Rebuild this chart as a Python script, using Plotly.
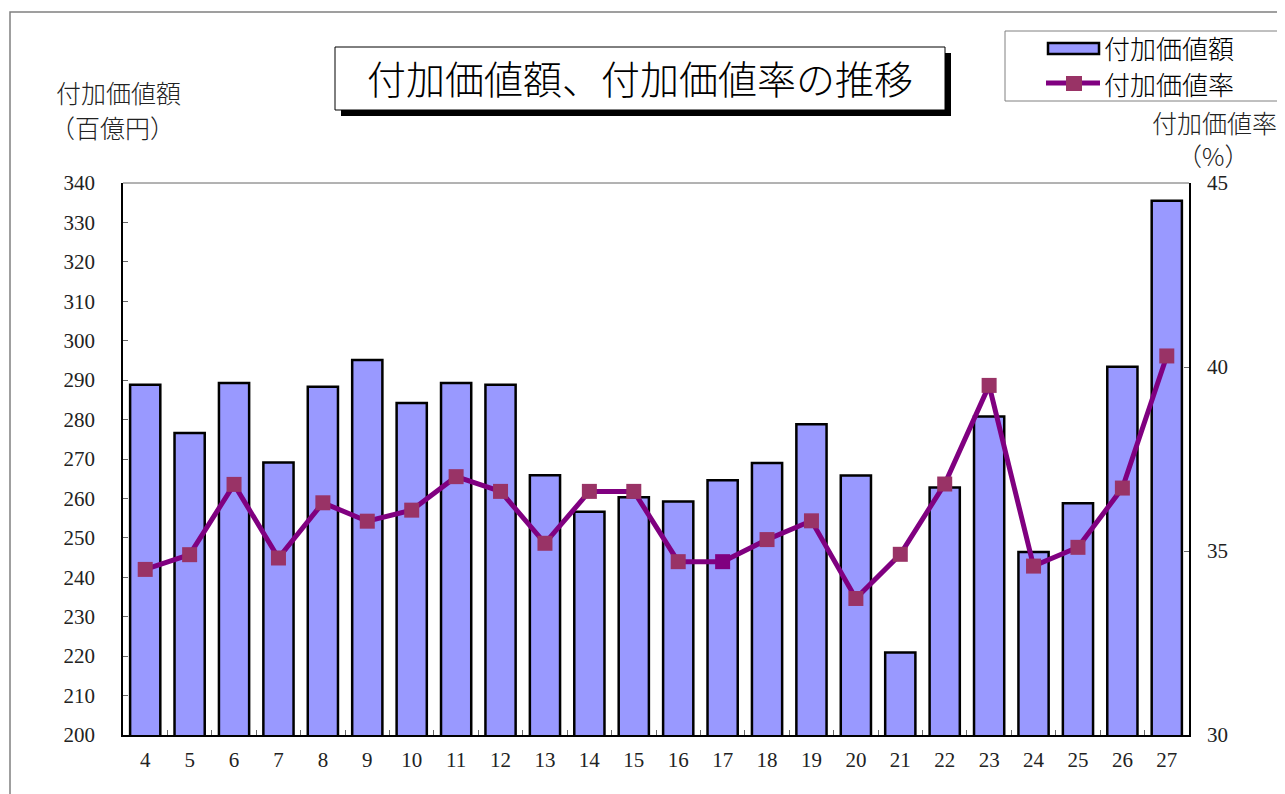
import plotly.graph_objects as go

# 年度（平成）
years = ["4", "5", "6", "7", "8", "9", "10", "11", "12", "13", "14", "15",
         "16", "17", "18", "19", "20", "21", "22", "23", "24", "25", "26", "27"]

# 付加価値額（百億円）
value_added = [288.8, 276.6, 289.3, 269.1, 288.3, 295.1, 284.2, 289.3, 288.8, 265.9,
               256.6, 260.3, 259.2, 264.6, 269.0, 278.8, 265.8, 220.9, 262.8, 280.8,
               246.4, 258.8, 293.4, 335.5]

# 付加価値率（%）
value_added_rate = [34.50, 34.90, 36.81, 34.81, 36.31, 35.81, 36.11, 37.02, 36.62, 35.21,
                    36.62, 36.62, 34.71, 34.71, 35.31, 35.82, 33.71, 34.91, 36.82, 39.50,
                    34.59, 35.10, 36.71, 40.30]

W, H = 1285, 794
OFF = 8  # page body margin
L, R, T, B = 123 - OFF, 1189 - OFF, 183 - OFF, 735 - OFF


def px(x):
    return (x - OFF - L) / (R - L)


def py(y):
    return (B - (y - OFF)) / (B - T)


num_font = "Liberation Serif, Noto Sans CJK JP, serif"
jp_font = "Noto Sans CJK JP, sans-serif"

BAR_FILL = "#9999FF"
LINE_COL = "#800080"
MARK_COL = "#993366"

# marker for 17 drawn in line colour, as in the original
marker_colors = [LINE_COL if y == "17" else MARK_COL for y in years]

fig = go.Figure()

fig.add_trace(go.Bar(
    x=years, y=value_added, name="付加価値額",
    marker=dict(color=BAR_FILL, line=dict(color="black", width=2.5)),
))

fig.add_trace(go.Scatter(
    x=years, y=value_added_rate, name="付加価値率", yaxis="y2",
    mode="lines+markers",
    line=dict(color=LINE_COL, width=5),
    marker=dict(symbol="square", size=15, color=marker_colors, line=dict(width=0)),
))


def prect(x0, y0, x1, y1, **kw):
    return dict(type="rect", xref="paper", yref="paper",
                x0=px(x0), y0=py(y1), x1=px(x1), y1=py(y0), **kw)


shapes = [
    # outer chart frame
    prect(10, 12, 1310, 830, line=dict(color="#808080", width=1.5)),
    # top border of plot area
    dict(type="line", xref="paper", yref="paper",
         x0=0, y0=1, x1=1, y1=1, line=dict(color="#666666", width=1)),
    # title shadow and box
    prect(341, 53, 951, 116, fillcolor="black", line=dict(width=0)),
    prect(335, 47, 945, 110, fillcolor="white", line=dict(color="black", width=1)),
    # legend box
    prect(1005, 31, 1282, 101, fillcolor="white", line=dict(color="#808080", width=1)),
    # legend symbols
    prect(1048, 43, 1099, 54, fillcolor=BAR_FILL, line=dict(color="black", width=2.5)),
    dict(type="line", xref="paper", yref="paper",
         x0=px(1046), y0=py(83), x1=px(1100), y1=py(83),
         line=dict(color=LINE_COL, width=5)),
    prect(1066, 76, 1082, 91, fillcolor=MARK_COL, line=dict(width=0)),
]


def label(text, x, y, size, xanchor="center", color="#222222"):
    return dict(text=text, xref="paper", yref="paper", x=px(x), y=py(y),
                xanchor=xanchor, yanchor="middle", showarrow=False,
                font=dict(family=jp_font, size=size, color=color, weight=300))


annotations = [
    label("付加価値額、付加価値率の推移", 640, 77, 39, color="black"),
    label("付加価値額", 118, 92, 25),
    label("（百億円）", 112, 127, 25),
    label("付加価値率", 1214, 122, 25),
    label("（%）", 1213, 155, 25),
    label("付加価値額", 1102, 48, 26, xanchor="left", color="black"),
    label("付加価値率", 1102, 83, 26, xanchor="left", color="black"),
]

fig.update_layout(
    width=W, height=H,
    margin=dict(l=L, r=W - R, t=T, b=H - B),
    plot_bgcolor="white", paper_bgcolor="white",
    bargap=0.32,
    showlegend=False,
    xaxis=dict(type="category", range=[-0.5, len(years) - 0.5],
               showline=True, linecolor="black", linewidth=1.5,
               ticks="inside", ticklen=5, tickcolor="#666666", tickson="boundaries",
               tickfont=dict(family=num_font, size=21, color="#222222"),
               ticklabelstandoff=5, showgrid=False),
    yaxis=dict(range=[200, 340], dtick=10, showline=True, linecolor="black",
               linewidth=1.5, ticks="inside", ticklen=5, tickcolor="#666666",
               tickfont=dict(family=num_font, size=21, color="#222222"),
               ticklabelstandoff=22, showgrid=False, zeroline=False),
    yaxis2=dict(range=[30, 45], dtick=5, overlaying="y", side="right",
                showline=True, linecolor="black", linewidth=1.5,
                ticks="inside", ticklen=5, tickcolor="#666666",
                tickfont=dict(family=num_font, size=21, color="#222222"),
                ticklabelstandoff=12, showgrid=False, zeroline=False),
    shapes=shapes,
    annotations=annotations,
)

fig.write_html("out.html")
